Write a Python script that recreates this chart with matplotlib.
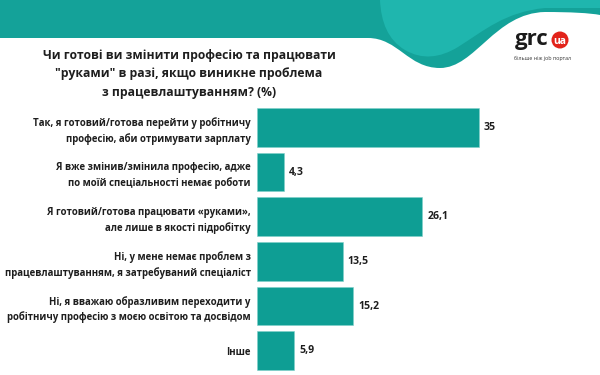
import matplotlib
matplotlib.use("Agg")
import matplotlib.pyplot as plt
from matplotlib.path import Path
from matplotlib.patches import PathPatch, Ellipse

categories = [
    "Так, я готовий/готова перейти у робітничу\nпрофесію, аби отримувати зарплату",
    "Я вже змінив/змінила професію, адже\nпо моїй спеціальності немає роботи",
    "Я готовий/готова працювати «руками»,\nале лише в якості підробітку",
    "Ні, у мене немає проблем з\nпрацевлаштуванням, я затребуваний спеціаліст",
    "Ні, я вважаю образливим переходити у\nробітничу професію з моєю освітою та досвідом",
    "Інше",
]
values = [35, 4.3, 26.1, 13.5, 15.2, 5.9]
value_labels = ["35", "4,3", "26,1", "13,5", "15,2", "5,9"]
title = 'Чи готові ви змінити професію та працювати\n"руками" в разі, якщо виникне проблема\nз працевлаштуванням? (%)'

W, H = 600, 375
FONT = ["Open Sans", "DejaVu Sans"]
BAR = "#0e9e94"
TXT = "#1e1e1e"

fig = plt.figure(figsize=(W / 100, H / 100), dpi=100)
fig.patch.set_facecolor("white")


def fp(x, y):
    return (x / W, 1 - y / H)


def shape(cmds, color, z):
    verts, codes = [], []
    for c, pts in cmds:
        for i, p in enumerate(pts):
            verts.append(fp(*p))
            codes.append(c if not (c == Path.MOVETO and i > 0) else Path.LINETO)
    verts.append(verts[0])
    codes.append(Path.CLOSEPOLY)
    patch = PathPatch(Path(verts, codes), facecolor=color, edgecolor="none",
                      transform=fig.transFigure, zorder=z)
    fig.add_artist(patch)

# header band + wave (dark teal)
shape([
    (Path.MOVETO, [(0, 0)]),
    (Path.LINETO, [(0, 38), (368, 38)]),
    (Path.CURVE4, [(398, 38), (408, 68), (440, 68)]),
    (Path.CURVE4, [(475, 68), (495, 13), (545, 12)]),
    (Path.CURVE4, [(570, 12), (590, 13), (600, 15)]),
    (Path.LINETO, [(600, 0)]),
], "#14a299", 0)

# lighter wave
shape([
    (Path.MOVETO, [(380, 0)]),
    (Path.CURVE4, [(381, 22), (388, 40), (405, 50)]),
    (Path.CURVE4, [(422, 60), (440, 58), (458, 47)]),
    (Path.CURVE4, [(485, 30), (505, 12), (545, 8)]),
    (Path.LINETO, [(600, 8), (600, 0)]),
], "#1fb6ae", 1)

# logo
fig.text(532 / W, 1 - 45 / H, "grc", fontsize=16, fontweight="bold", family=FONT,
         color="#1a1a1a", ha="center", va="baseline")
fig.add_artist(Ellipse(fp(560, 40), 17 / W, 17 / H, transform=fig.transFigure,
                       facecolor="#e2231a", edgecolor="none", zorder=3))
fig.text(560 / W, 1 - 41 / H, "ua", fontsize=7.5, fontweight="bold", family=FONT,
         color="white", ha="center", va="center", zorder=4)
fig.text(543 / W, 1 - 58 / H, "більше ніж job портал", fontsize=3.8, family=FONT,
         color="#333333", ha="center", va="center")

# title
fig.text(189 / W, 1 - 74 / H, title, fontsize=8.7, fontweight="bold", family=FONT,
         color=TXT, ha="center", va="center", linespacing=1.55)

# bars
ax = fig.add_axes([257 / W, 1 - 373 / H, (590 - 257) / W, (373 - 105) / H])
ax.set_facecolor("none")
ypos = list(range(len(values)))
ax.barh(ypos, values, height=0.86, color=BAR, edgecolor="#7fd0ca", linewidth=0.4)
ax.set_xlim(0, (590 - 257) / 6.34)
ax.set_ylim(len(values) - 0.5, -0.5)
for y, v, lab in zip(ypos, values, value_labels):
    ax.annotate(lab, (v, y), xytext=(3.5, 0), textcoords="offset points",
                ha="left", va="center", fontsize=7.6, fontweight="bold",
                family=FONT, color=TXT)
ax.set_yticks(ypos)
ax.set_yticklabels(categories, fontsize=6.9, fontweight="bold", family=FONT,
                   color=TXT, linespacing=1.45)
ax.tick_params(axis="y", length=0, pad=4.5)
ax.set_xticks([])
for s in ax.spines.values():
    s.set_visible(False)

fig.savefig("out.png", dpi=100, facecolor="white")
